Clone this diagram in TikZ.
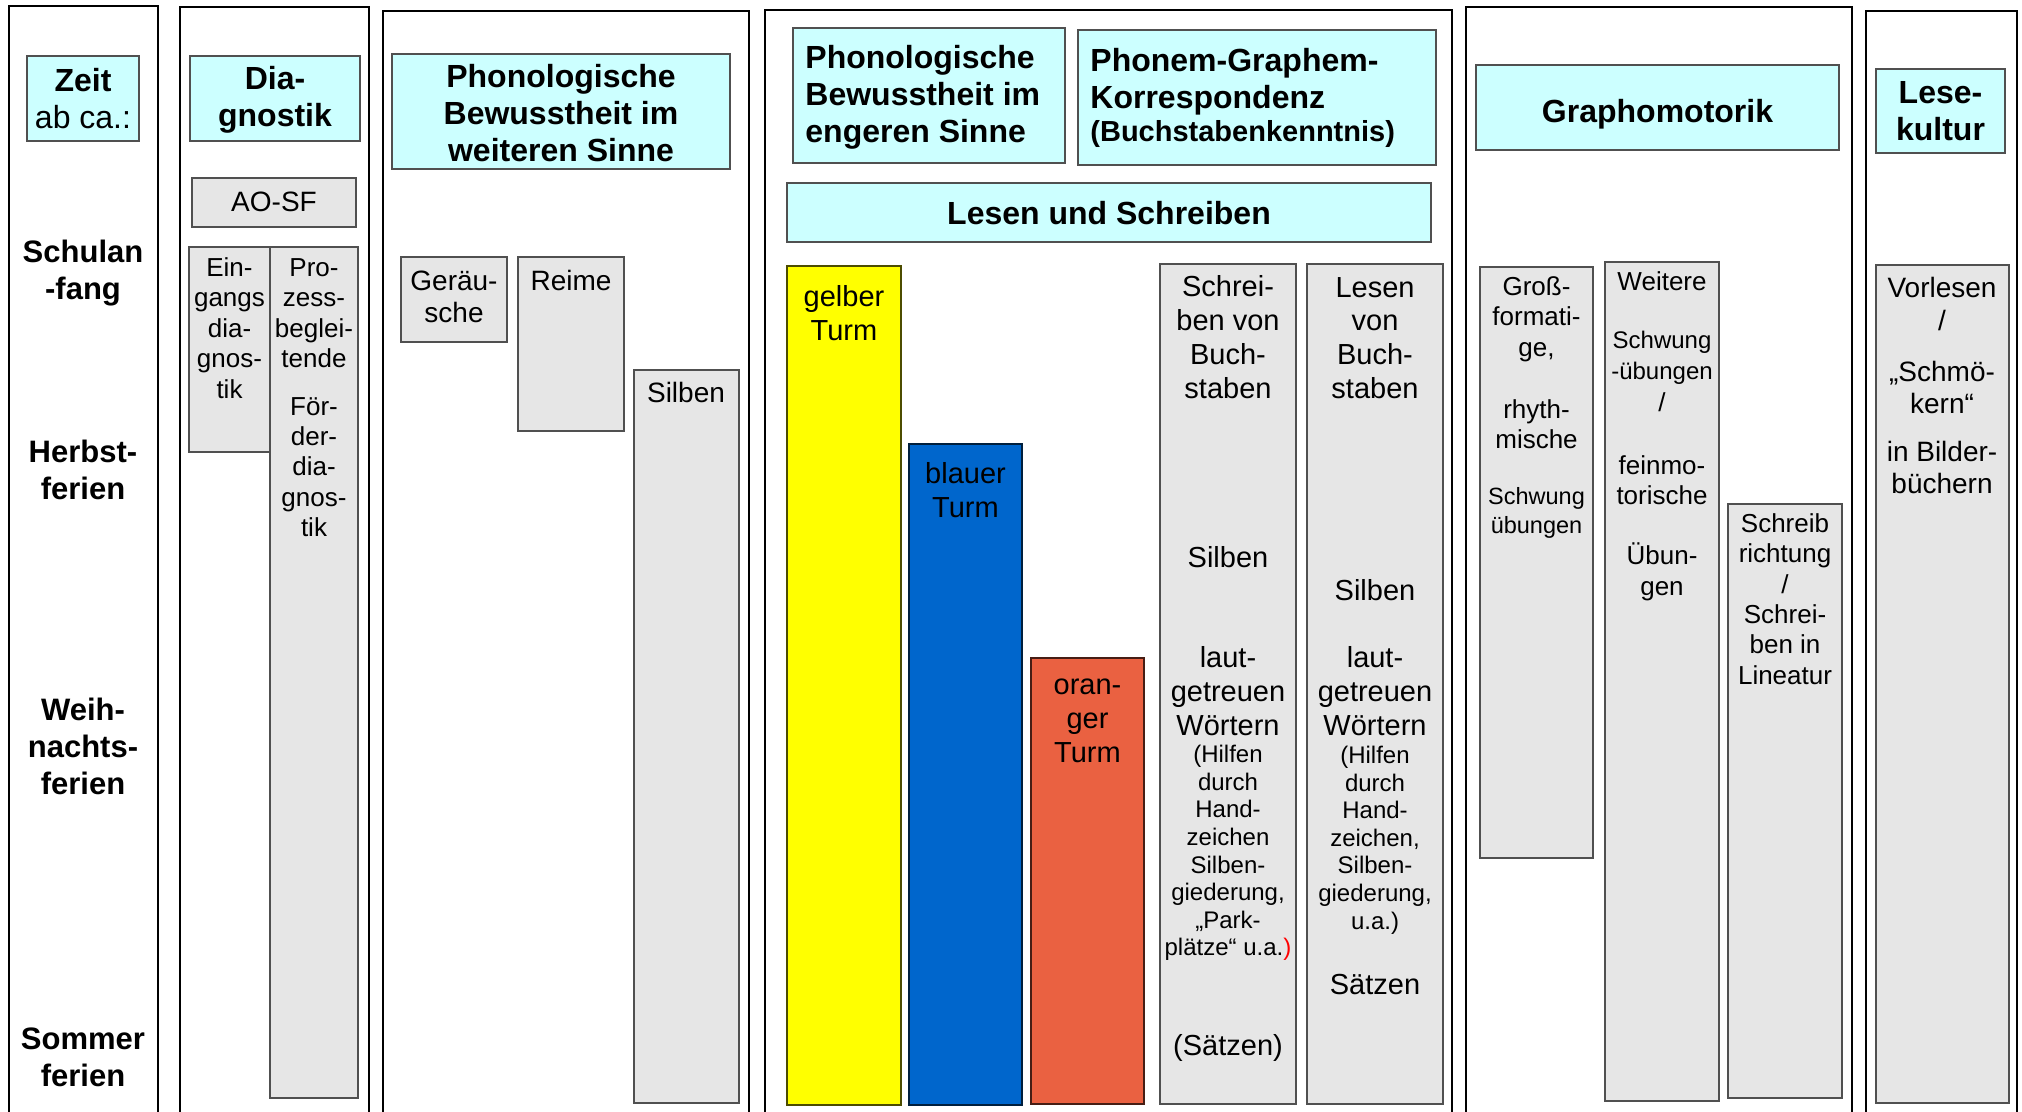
\documentclass[tikz,border=0pt]{standalone}
\usepackage{fontspec}
\setmainfont{Liberation Sans}
\definecolor{headcyan}{HTML}{CCFFFF}
\definecolor{boxgray}{HTML}{E6E6E6}
\definecolor{boxline}{HTML}{505050}
\definecolor{tyellow}{HTML}{FFFF00}
\definecolor{tblue}{HTML}{0066CC}
\definecolor{torange}{HTML}{EA6141}
\tikzset{
 colframe/.style={draw=black, line width=0.7pt},
 headbox/.style={draw=boxline, fill=headcyan, line width=0.6pt},
 graybox/.style={draw=boxline, fill=boxgray, line width=0.6pt},
 lbl/.style={inner sep=0pt, align=center},
 hdtxt/.style={lbl, font=\fontsize{16}{18.5}\selectfont\bfseries},
 timetxt/.style={lbl, font=\fontsize{15.5}{18.5}\selectfont\bfseries},
 txA/.style={lbl, font=\fontsize{14.5}{16.9}\selectfont},
 txB/.style={lbl, font=\fontsize{14}{16}\selectfont},
 txC/.style={lbl, font=\fontsize{13}{15.2}\selectfont},
 txS/.style={lbl, font=\fontsize{12}{13.8}\selectfont},
}
\begin{document}
\begin{tikzpicture}[x=0.5pt,y=-0.5pt]
\useasboundingbox[fill=white] (0,0) rectangle (2022,1112);

% column frames (open at the bottom)
\draw[colframe] (9,1130) -- (9,6) -- (158,6) -- (158,1130);
\draw[colframe] (180,1130) -- (180,7) -- (369,7) -- (369,1130);
\draw[colframe] (383,1130) -- (383,11) -- (749,11) -- (749,1130);
\draw[colframe] (765,1130) -- (765,10) -- (1452,10) -- (1452,1130);
\draw[colframe] (1466,1130) -- (1466,7) -- (1852,7) -- (1852,1130);
\draw[colframe] (1866,1130) -- (1866,11) -- (2017,11) -- (2017,1130);

% ---------- column 1: time
\draw[headbox] (27,56) rectangle (139,141);
\node[hdtxt] (zeit) at (83,99) {Zeit\\\mdseries ab ca.:};
\node[timetxt] (t1) at (83,273) {Schulan\\-fang};
\node[timetxt] (t2) at (83,470) {Herbst-\\ferien};
\node[timetxt] (t3) at (83,746) {Weih-\\nachts-\\ferien};
\node[timetxt] (t4) at (83,1057) {Sommer\\ferien};

% ---------- column 2: Diagnostik
\draw[headbox] (190,56) rectangle (360,141);
\node[hdtxt] (diag) at (275,100) {Dia-\\gnostik};
\draw[graybox] (192,178) rectangle (356,227);
\node[txB] (aosf) at (274,202) {AO-SF};
\draw[graybox] (189,247) rectangle (270,452);
\node[txC] (eing) at (229.5,328) {Ein-\\gangs\\dia-\\gnos-\\tik};
\draw[graybox] (270,247) rectangle (358,1098);
\node[txC] (proz) at (314,313) {Pro-\\zess-\\beglei-\\tende};
\node[txC] (foerd) at (314,467) {För-\\der-\\dia-\\gnos-\\tik};

% ---------- column 3: Phonologische Bewusstheit im weiteren Sinne
\draw[headbox] (392,54) rectangle (730,169);
\node[hdtxt] (phonW) at (561,113) {Phonologische\\Bewusstheit im\\weiteren Sinne};
\draw[graybox] (401,257) rectangle (507,342);
\node[txB] (geraeusche) at (454,297) {Geräu-\\sche};
\draw[graybox] (518,257) rectangle (624,431);
\node[txB] (reime) at (571,280) {Reime};
\draw[graybox] (634,370) rectangle (739,1103);
\node[txB] (silbenP) at (686,392) {Silben};

% ---------- column 4: Lesen und Schreiben
\draw[headbox] (793,28) rectangle (1065,163);
\node[hdtxt, align=left, anchor=west] (phonE) at (805,97) {Phonologische\\Bewusstheit im\\engeren Sinne};
\draw[headbox] (1078,30) rectangle (1436,165);
\node[hdtxt, align=left, anchor=west] (pgk) at (1090,82) {Phonem-Graphem-\\Korrespondenz};
\node[lbl, font=\fontsize{14.5}{17}\selectfont\bfseries, anchor=west] (buchst) at (1090,134) {(Buchstabenkenntnis)};
\draw[headbox] (787,183) rectangle (1431,242);
\node[hdtxt] (lus) at (1109,213) {Lesen und Schreiben};

\draw[draw=black!70!tyellow, fill=tyellow, line width=0.6pt] (787,266) rectangle (901,1105);
\node[txA] (gelb) at (844,313) {gelber\\Turm};
\draw[draw=black!70!tblue, fill=tblue, line width=0.6pt] (909,444) rectangle (1022,1105);
\node[txA] (blau) at (965.5,490) {blauer\\Turm};
\draw[draw=black!70!torange, fill=torange, line width=0.6pt] (1031,658) rectangle (1144,1104);
\node[txA] (orange) at (1087.5,721) {oran-\\ger\\Turm};

\draw[graybox] (1160,264) rectangle (1296,1104);
\node[txA] (sch1) at (1228,337) {Schrei-\\ben von\\Buch-\\staben};
\node[txA] (sch2) at (1228,557) {Silben};
\node[txA] (sch3) at (1228,691) {laut-\\getreuen\\Wörtern};
\node[txS] (sch4) at (1228,853) {(Hilfen\\durch\\Hand-\\zeichen\\Silben-\\giederung,\\„Park-\\plätze“ u.a.\textcolor{red}{)}};
\node[txA] (sch5) at (1228,1048) {(Sätzen)};

\draw[graybox] (1307,264) rectangle (1443,1104);
\node[txA] (les1) at (1375,338) {Lesen\\von\\Buch-\\staben};
\node[txA] (les2) at (1375,590) {Silben};
\node[txA] (les3) at (1375,691) {laut-\\getreuen\\Wörtern};
\node[txS] (les4) at (1375,840) {(Hilfen\\durch\\Hand-\\zeichen,\\Silben-\\giederung,\\u.a.)};
\node[txA] (les5) at (1375,985) {Sätzen};

% ---------- column 5: Graphomotorik
\draw[headbox] (1476,65) rectangle (1839,150);
\node[hdtxt] (grapho) at (1657.5,114) {Graphomotorik};
\draw[graybox] (1480,267) rectangle (1593,858);
\node[txC] (gross) at (1536.5,319) {Groß-\\formati-\\ge,};
\node[txC] (rhyth) at (1536.5,424) {rhyth-\\mische};
\node[lbl, font=\fontsize{11.75}{14.5}\selectfont] (schw1) at (1536.5,513) {Schwung\\übungen};
\draw[graybox] (1605,262) rectangle (1719,1101);
\node[txC] (weitere) at (1662,281) {Weitere};
\node[lbl, font=\fontsize{12}{15.5}\selectfont] (schw2) at (1662,358) {Schwung\\-übungen};
\node[txC] (slash1) at (1662,402) {/};
\node[txC] (feinmo) at (1662,480) {feinmo-\\torische};
\node[txC] (uebungen) at (1662,572) {Übun-\\gen};
\draw[graybox] (1728,504) rectangle (1842,1098);
\node[txC] (schreib) at (1785,599) {Schreib\\richtung\\/\\Schrei-\\ben in\\Lineatur};

% ---------- column 6: Lesekultur
\draw[headbox] (1876,69) rectangle (2005,153);
\node[hdtxt] (lesek) at (1940.5,111) {Lese-\\kultur};
\draw[graybox] (1876,265) rectangle (2009,1103);
\node[txB] (vorl) at (1942,287) {Vorlesen};
\node[txB] (slash2) at (1942,320) {/};
\node[txB] (schmoe) at (1942,387) {„Schmö-\\kern“};
\node[txB] (bilder) at (1942,467) {in Bilder-\\büchern};
\end{tikzpicture}
\end{document}
